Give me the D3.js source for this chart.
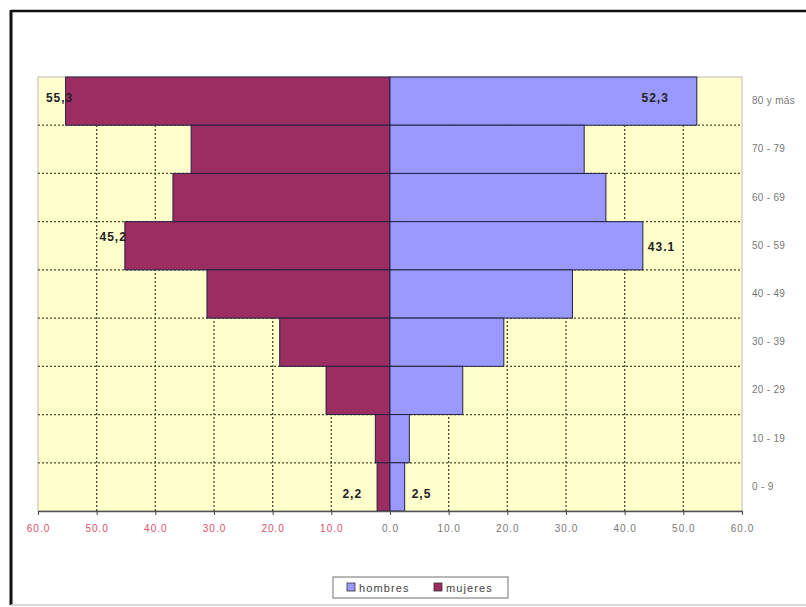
<!DOCTYPE html>
<html>
<head>
<meta charset="utf-8">
<script src="https://cdn.jsdelivr.net/npm/d3@7"></script>
<style>
  html, body { margin: 0; padding: 0; background: #fff; }
  svg { display: block; font-family: "Liberation Sans", Arial, sans-serif; }
</style>
</head>
<body>
<svg id="chart" width="806" height="607"></svg>
<script>
// Age groups, oldest on top
const categories = ["80 y más", "70 - 79", "60 - 69", "50 - 59", "40 - 49", "30 - 39", "20 - 29", "10 - 19", "0 - 9"];
// Values per age group (same order as categories)
const hombres = [52.3, 33.1, 36.8, 43.1, 31.1, 19.4, 12.4, 3.3, 2.5];
const mujeres = [55.3, 33.9, 37.0, 45.2, 31.2, 18.8, 10.9, 2.5, 2.2];
// Axis ticks (mujeres drawn to the left as negative values)
const ticks = [-60, -50, -40, -30, -20, -10, 0, 10, 20, 30, 40, 50, 60];
// Value labels shown on some bars
const valueLabels = [
  { cat: "80 y más", serie: "mujeres", text: "55,3" },
  { cat: "80 y más", serie: "hombres", text: "52,3" },
  { cat: "50 - 59", serie: "mujeres", text: "45,2" },
  { cat: "50 - 59", serie: "hombres", text: "43.1" },
  { cat: "0 - 9",   serie: "mujeres", text: "2,2" },
  { cat: "0 - 9",   serie: "hombres", text: "2,5" }
];

const colHombres = "#9999ff";
const colMujeres = "#9c2d60";

const svg = d3.select("#chart");

// outer frame
svg.append("line").attr("x1", 11).attr("y1", 11).attr("x2", 806).attr("y2", 11)
  .attr("stroke", "#111").attr("stroke-width", 2.5);
svg.append("line").attr("x1", 11).attr("y1", 10).attr("x2", 11).attr("y2", 605)
  .attr("stroke", "#111").attr("stroke-width", 3);
svg.append("line").attr("x1", 11).attr("y1", 605).attr("x2", 806).attr("y2", 605)
  .attr("stroke", "#ccc").attr("stroke-width", 1.5);

const x = d3.scaleLinear().domain([-60, 60]).range([38, 742]);
const y = d3.scaleBand().domain(categories).range([77, 511]).padding(0);

// plot background
svg.append("rect")
  .attr("x", x(-60)).attr("y", y.range()[0])
  .attr("width", x(60) - x(-60)).attr("height", y.range()[1] - y.range()[0])
  .attr("fill", "#ffffcc").attr("stroke", "#bbb").attr("stroke-width", 1);

// dashed gridlines
const grid = svg.append("g").attr("stroke", "#4a4a30").attr("stroke-width", 1.3)
  .attr("stroke-dasharray", "2,2");
grid.selectAll("line.v").data(ticks.filter(t => Math.abs(t) < 60)).join("line")
  .attr("class", "v")
  .attr("x1", d => x(d)).attr("x2", d => x(d))
  .attr("y1", y.range()[0]).attr("y2", y.range()[1]);
grid.selectAll("line.h").data(categories.slice(1)).join("line")
  .attr("class", "h")
  .attr("x1", x(-60)).attr("x2", x(60))
  .attr("y1", d => y(d)).attr("y2", d => y(d));

// bars
const bars = svg.append("g").attr("stroke", "#222244").attr("stroke-width", 1);
bars.selectAll("rect.m").data(categories).join("rect")
  .attr("class", "m")
  .attr("x", (d, i) => x(-mujeres[i]))
  .attr("y", d => y(d))
  .attr("width", (d, i) => x(0) - x(-mujeres[i]))
  .attr("height", y.bandwidth())
  .attr("fill", colMujeres);
bars.selectAll("rect.h").data(categories).join("rect")
  .attr("class", "h")
  .attr("x", x(0))
  .attr("y", d => y(d))
  .attr("width", (d, i) => x(hombres[i]) - x(0))
  .attr("height", y.bandwidth())
  .attr("fill", colHombres);

// bottom axis
const axis = d3.axisBottom(x).tickValues(ticks).tickSize(4).tickSizeOuter(0)
  .tickFormat(d => d3.format(".1f")(Math.abs(d)));
const gx = svg.append("g").attr("transform", `translate(0,${y.range()[1]})`).call(axis);
gx.select(".domain").attr("stroke", "#555").attr("stroke-width", 1.5);
gx.selectAll(".tick line").attr("stroke", "#444");
gx.selectAll(".tick text")
  .attr("y", 14)
  .attr("font-size", 10)
  .attr("letter-spacing", 1)
  .attr("font-family", "'Liberation Sans', Arial, sans-serif")
  .attr("fill", d => d < 0 ? "#e0506a" : "#777");

// category labels on the right
svg.append("g").selectAll("text").data(categories).join("text")
  .attr("x", 752)
  .attr("y", d => y(d) + y.bandwidth() / 2 + 3)
  .attr("font-size", 10)
  .attr("letter-spacing", 0.3)
  .attr("fill", "#777")
  .text(d => d);

// value labels
const labelStyle = {
  "80 y más|mujeres": { anchor: "middle", dx: -6, dy: -3 },
  "80 y más|hombres": { anchor: "end", dx: -28, dy: -3 },
  "50 - 59|mujeres":  { anchor: "end", dx: 2, dy: -9 },
  "50 - 59|hombres":  { anchor: "start", dx: 5, dy: 1 },
  "0 - 9|mujeres":    { anchor: "end", dx: -15, dy: 7 },
  "0 - 9|hombres":    { anchor: "start", dx: 7, dy: 7 }
};
svg.append("g").selectAll("text").data(valueLabels).join("text")
  .each(function (d) {
    const i = categories.indexOf(d.cat);
    const st = labelStyle[d.cat + "|" + d.serie];
    const end = d.serie === "mujeres" ? x(-mujeres[i]) : x(hombres[i]);
    d3.select(this)
      .attr("x", end + st.dx)
      .attr("y", y(d.cat) + y.bandwidth() / 2 + 4 + st.dy)
      .attr("text-anchor", st.anchor);
  })
  .attr("font-size", 12)
  .attr("letter-spacing", 1)
  .attr("font-weight", "bold")
  .attr("fill", "#222")
  .text(d => d.text);

// legend
const lg = svg.append("g").attr("transform", "translate(333,577)");
lg.append("rect").attr("width", 175).attr("height", 21)
  .attr("fill", "#fff").attr("stroke", "#888").attr("stroke-width", 1.2);
const items = [{ name: "hombres", color: colHombres }, { name: "mujeres", color: colMujeres }];
const li = lg.selectAll("g").data(items).join("g")
  .attr("transform", (d, i) => `translate(${14 + i * 87},0)`);
li.append("rect").attr("x", 0).attr("y", 6).attr("width", 8).attr("height", 8)
  .attr("fill", d => d.color).attr("stroke", "#333").attr("stroke-width", 0.8);
li.append("text").attr("x", 12).attr("y", 14.5)
  .attr("font-size", 11).attr("letter-spacing", 1.1).attr("fill", "#444").text(d => d.name);
</script>
</body>
</html>
